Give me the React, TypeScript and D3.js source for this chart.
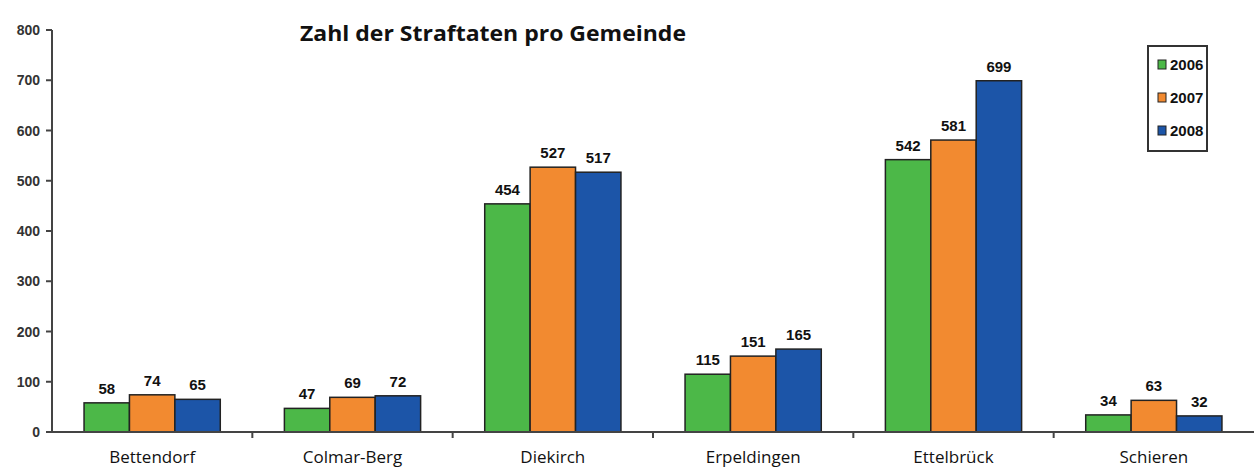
import React from "react";
import * as d3 from "d3";

const categories = ["Bettendorf", "Colmar-Berg", "Diekirch", "Erpeldingen", "Ettelbrück", "Schieren"];
const years = ["2006", "2007", "2008"];
const values2006 = [58, 47, 454, 115, 542, 34];
const values2007 = [74, 69, 527, 151, 581, 63];
const values2008 = [65, 72, 517, 165, 699, 32];
const yTicks = [0, 100, 200, 300, 400, 500, 600, 700, 800];
const colors = ["#4cb848", "#f28a30", "#1c55a8"];
const title = "Zahl der Straftaten pro Gemeinde";

export default function App() {
  const W = 1256, H = 468;
  const x0 = 52, x1 = 1254, yBottom = 432, yTop = 30;
  const series = [values2006, values2007, values2008];
  const x = d3.scaleBand<string>().domain(categories).range([x0, x1]).paddingInner(0.32).paddingOuter(0.16);
  const xOuter = d3.scaleBand<string>().domain(categories).range([x0, x1]);
  const xs = d3.scaleBand<string>().domain(years).range([0, x.bandwidth()]);
  const y = d3.scaleLinear().domain([0, 800]).range([yBottom, yTop]);
  const narrow = "'Liberation Sans Narrow', 'Arial Narrow', sans-serif";
  return (
    <svg width={W} height={H} style={{ position: "absolute", left: 0, top: 0, background: "#fff" }}>
      <text x={300} y={41} fontFamily="'Open Sans', sans-serif" fontWeight="bold" fontSize={22} fill="#111" textLength={386} lengthAdjust="spacingAndGlyphs">{title}</text>
      {/* y axis */}
      <line x1={x0} x2={x0} y1={y(800)} y2={yBottom} stroke="#444" strokeWidth={2} />
      {yTicks.map((t) => (
        <g key={t}>
          <line x1={x0 - 6} x2={x0} y1={y(t)} y2={y(t)} stroke="#444" strokeWidth={2} />
          <text x={x0 - 12} y={y(t) + 5} textAnchor="end" fontFamily={narrow} fontWeight="bold" fontSize={14} fill="#333">{t}</text>
        </g>
      ))}
      {/* bars */}
      {categories.map((c, i) => (
        <g key={c} transform={`translate(${x(c)},0)`}>
          {series.map((s, j) => (
            <g key={j}>
              <rect x={xs(years[j])} y={y(s[i])} width={xs.bandwidth()} height={yBottom - y(s[i])} fill={colors[j]} stroke="#222" strokeWidth={1.5} />
              <text x={(xs(years[j]) as number) + xs.bandwidth() / 2} y={y(s[i]) - 9} textAnchor="middle" fontFamily={narrow} fontWeight="bold" fontSize={15} fill="#111">{s[i]}</text>
            </g>
          ))}
        </g>
      ))}
      {/* x axis */}
      <line x1={x0} x2={x1} y1={yBottom} y2={yBottom} stroke="#444" strokeWidth={2} />
      {categories.map((c, i) => (
        <g key={c}>
          {i > 0 && <line x1={xOuter(c)} x2={xOuter(c)} y1={yBottom} y2={yBottom + 6} stroke="#444" strokeWidth={2} />}
          <text x={(xOuter(c) as number) + xOuter.bandwidth() / 2} y={463} textAnchor="middle" fontFamily="'Open Sans', sans-serif" fontSize={17} fill="#111">{c}</text>
        </g>
      ))}
      {/* legend */}
      <rect x={1148} y={46} width={59} height={105} fill="#fff" stroke="#333" strokeWidth={2} />
      {years.map((yr, j) => (
        <g key={yr}>
          <rect x={1158} y={60 + j * 33} width={8} height={9} fill={colors[j]} stroke="#222" strokeWidth={1} />
          <text x={1170} y={70 + j * 33} fontFamily={narrow} fontWeight="bold" fontSize={15} fill="#111">{yr}</text>
        </g>
      ))}
    </svg>
  );
}
